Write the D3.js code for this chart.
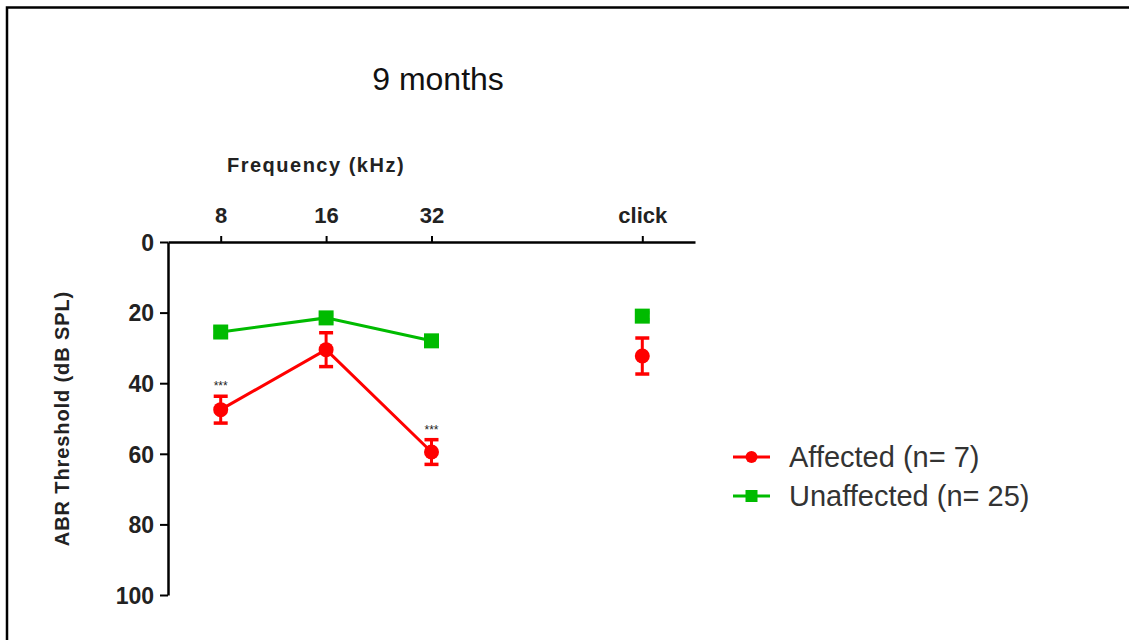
<!DOCTYPE html>
<html>
<head>
<meta charset="utf-8">
<script src="https://cdn.jsdelivr.net/npm/d3@7"></script>
<style>
  html, body { margin: 0; padding: 0; background: #fff; }
  svg text { font-family: "Liberation Sans", Arial, sans-serif; }
</style>
</head>
<body>
<svg id="chart" width="1129" height="640"></svg>
<script>
// Frequency categories and their slot on the x axis (click sits apart)
const categories = ["8", "16", "32", "click"];
const slots = [1, 2, 3, 5];

// ABR thresholds (dB SPL), mean ± SEM
const affectedMean = [47.5, 30.5, 59.5, 32.3];
const affectedErr = [3.8, 4.8, 3.5, 5.1];
const unaffectedMean = [25.5, 21.5, 28, 21];
const unaffectedErr = [1.2, 1.0, 1.1, 1.0];

const yTicks = [0, 20, 40, 60, 80, 100];
const significance = ["***", "", "***", ""];

const svg = d3.select("#chart");

// outer frame (top and left edges)
svg.append("path")
  .attr("d", "M7,640 V7.5 H1129")
  .attr("fill", "none").attr("stroke", "#000").attr("stroke-width", 2.5);

const x = d3.scaleLinear().domain([0.5, 5.5]).range([168, 695]);
const y = d3.scaleLinear().domain([0, 100]).range([242, 595]);

// top x axis
const xAxis = d3.axisTop(x).tickValues(slots).tickFormat((d, i) => categories[i])
  .tickSize(6).tickSizeOuter(0);
const gx = svg.append("g").attr("transform", `translate(0,${y(0)})`).call(xAxis);
gx.select(".domain").attr("stroke", "#000").attr("stroke-width", 2.5);
gx.selectAll(".tick line").attr("stroke", "#000").attr("stroke-width", 2);
gx.selectAll(".tick text").attr("font-size", 22).attr("font-weight", "bold")
  .attr("fill", "#222").attr("y", -19).attr("dy", "0");

// left y axis
const yAxis = d3.axisLeft(y).tickValues(yTicks).tickSize(8).tickSizeOuter(0);
const gy = svg.append("g").attr("transform", `translate(${x(0.5)},0)`).call(yAxis);
gy.select(".domain").attr("stroke", "#000").attr("stroke-width", 2.5);
gy.selectAll(".tick line").attr("stroke", "#000").attr("stroke-width", 2);
gy.selectAll(".tick text").attr("font-size", 23).attr("font-weight", "bold")
  .attr("fill", "#222").attr("x", -14).attr("dy", "0.36em");

// titles
svg.append("text").attr("x", 438).attr("y", 90).attr("text-anchor", "middle")
  .attr("font-size", 32).attr("fill", "#111").text("9 months");
svg.append("text").attr("x", 316).attr("y", 172).attr("text-anchor", "middle")
  .attr("font-size", 20).attr("font-weight", "bold").attr("fill", "#222")
  .attr("letter-spacing", 1.5).text("Frequency (kHz)");
svg.append("text")
  .attr("transform", `translate(69,${y(50)}) rotate(-90)`)
  .attr("text-anchor", "middle").attr("font-size", 20).attr("font-weight", "bold")
  .attr("fill", "#222").attr("letter-spacing", 0.9).text("ABR Threshold (dB SPL)");

const red = "#ff0000", green = "#00bb00";

function drawSeries(mean, err, color, marker) {
  const pts = slots.map((s, i) => ({ s, m: mean[i], e: err[i] }));
  // the connecting line only joins the frequency points, not click
  const line = d3.line().x(d => x(d.s)).y(d => y(d.m));
  svg.append("path").datum(pts.slice(0, 3)).attr("d", line)
    .attr("fill", "none").attr("stroke", color).attr("stroke-width", 3);
  const g = svg.append("g");
  pts.forEach(d => {
    const cx = x(d.s);
    g.append("line").attr("x1", cx).attr("x2", cx)
      .attr("y1", y(d.m - d.e)).attr("y2", y(d.m + d.e))
      .attr("stroke", color).attr("stroke-width", 3);
    [d.m - d.e, d.m + d.e].forEach(v => {
      g.append("line").attr("x1", cx - 7).attr("x2", cx + 7)
        .attr("y1", y(v)).attr("y2", y(v))
        .attr("stroke", color).attr("stroke-width", 3.5);
    });
    if (marker === "circle") {
      g.append("circle").attr("cx", cx).attr("cy", y(d.m)).attr("r", 7.5).attr("fill", color);
    } else {
      g.append("rect").attr("x", cx - 7.5).attr("y", y(d.m) - 7.5)
        .attr("width", 15).attr("height", 15).attr("fill", color);
    }
  });
}

drawSeries(unaffectedMean, unaffectedErr, green, "square");
drawSeries(affectedMean, affectedErr, red, "circle");

// significance markers above affected points
slots.forEach((s, i) => {
  if (!significance[i]) return;
  svg.append("text").attr("x", x(s)).attr("y", y(affectedMean[i] - affectedErr[i]) - 6)
    .attr("text-anchor", "middle").attr("font-size", 12).attr("fill", "#222")
    .text(significance[i]);
});

// legend
const legend = [
  { label: "Affected (n= 7)", color: red, marker: "circle" },
  { label: "Unaffected (n= 25)", color: green, marker: "square" }
];
legend.forEach((d, i) => {
  const ly = 457 + i * 39;
  svg.append("line").attr("x1", 733).attr("x2", 770).attr("y1", ly).attr("y2", ly)
    .attr("stroke", d.color).attr("stroke-width", 3);
  if (d.marker === "circle") {
    svg.append("circle").attr("cx", 751.5).attr("cy", ly).attr("r", 6).attr("fill", d.color);
  } else {
    svg.append("rect").attr("x", 745.5).attr("y", ly - 6).attr("width", 12).attr("height", 12)
      .attr("fill", d.color);
  }
  svg.append("text").attr("x", 789).attr("y", ly + 10).attr("font-size", 29)
    .attr("fill", "#333").text(d.label);
});
</script>
</body>
</html>
